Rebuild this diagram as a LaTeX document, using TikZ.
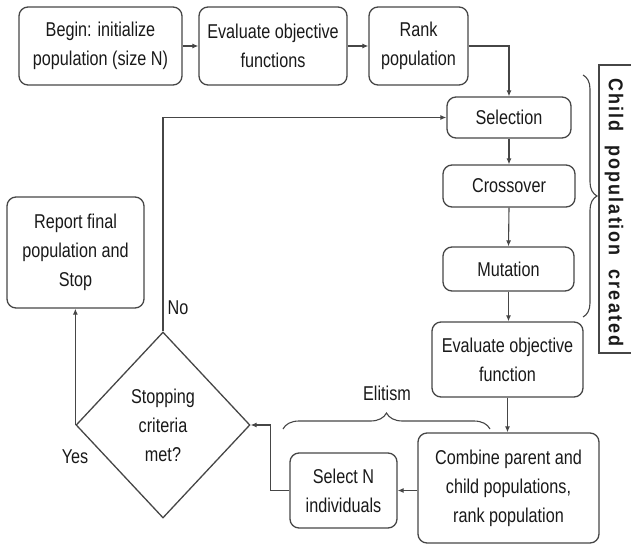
\documentclass[tikz,border=0pt]{standalone}
\usepackage{fontspec}
\setmainfont{Liberation Sans}[FakeStretch=0.81]
\newfontfamily\vfont{Liberation Sans}[FakeStretch=0.9,LetterSpace=10]
\usetikzlibrary{arrows.meta,shapes.geometric,decorations.pathreplacing,calc}
\definecolor{linec}{RGB}{70,70,70}
\definecolor{txtc}{RGB}{25,25,25}
\begin{document}
\begin{tikzpicture}[x=1pt,y=-1pt,
  box/.style={draw=linec, line width=1.3pt, rounded corners=9pt, align=center,
    inner sep=0pt, text=txtc, font=\fontsize{20}{29}\selectfont},
  conn/.style={draw=linec, line width=1.1pt, -{Latex[length=6pt,width=5pt]}},
  lbl/.style={text=txtc, font=\fontsize{20}{29}\selectfont, inner sep=0pt},
  brc/.style={draw=linec, line width=1.1pt, decorate}
]
\useasboundingbox (0,0) rectangle (631,546);

\node[box, minimum width=163pt, minimum height=78pt] (begin) at (100.5,46) {Begin: initialize\\population (size N)};
\node[box, minimum width=148pt, minimum height=78pt] (eval1) at (273,46) {Evaluate objective\\functions};
\node[box, minimum width=99pt, minimum height=78pt] (rank) at (418.5,46) {Rank\\population};
\node[box, minimum width=124pt, minimum height=41pt] (sel) at (509,117.5) {Selection};
\node[box, minimum width=132pt, minimum height=42pt] (cross) at (509,186) {Crossover};
\node[box, minimum width=131pt, minimum height=44pt] (mut) at (508.5,269) {Mutation};
\node[box, minimum width=151pt, minimum height=75pt] (eval2) at (507.5,359.5) {Evaluate objective\\function};
\node[box, minimum width=181pt, minimum height=110pt] (comb) at (508.5,488) {Combine parent and\\child populations,\\rank population};
\node[box, minimum width=107pt, minimum height=75pt] (seln) at (343.5,490.5) {Select N\\individuals};
\node[box, minimum width=137pt, minimum height=111pt] (report) at (75.5,252.5) {Report final\\population and\\Stop};
\node[box, rounded corners=0pt, diamond, minimum width=174pt, minimum height=186pt] (stop) at (163,425) {Stopping\\criteria\\met?};

\draw[conn] (begin.east) -- (eval1.west);
\draw[conn] (eval1.east) -- (rank.west);
\draw[conn] (rank.east) -| (sel.north);
\draw[conn] (sel.south) -- (cross.north);
\draw[conn] (cross.south) -- (mut.north);
\draw[conn] (mut.south) -- (mut.south |- eval2.north);
\draw[conn] (eval2.south) -- (eval2.south |- comb.north);
\draw[conn] (comb.west |- seln.east) -- (seln.east);
\draw[conn] (seln.west) -- ++(-19,0) |- (stop.east);
\draw[conn] (stop.north) |- (sel.west);
\draw[conn] (stop.west) -- (stop.west |- report.south);

\node[lbl] (no) at (178,308) {No};
\node[lbl] (yes) at (75,457) {Yes};
\node[lbl] (elit) at (387,393) {Elitism};

\draw[brc, decoration={brace, amplitude=16pt}] (283,429) -- (490,429);
\draw[brc, decoration={brace, amplitude=14pt}] (583,75) -- (583,317);

\draw[linec, line width=1.3pt] (631,65) -- (599,65) -- (599,353) -- (631,353);
\node[rotate=-90, text=txtc, inner sep=0pt, font=\vfont\bfseries\fontsize{20}{24}\selectfont] (child) at (614,212.5) {Child\ \ population\ \ created};
\end{tikzpicture}
\end{document}
